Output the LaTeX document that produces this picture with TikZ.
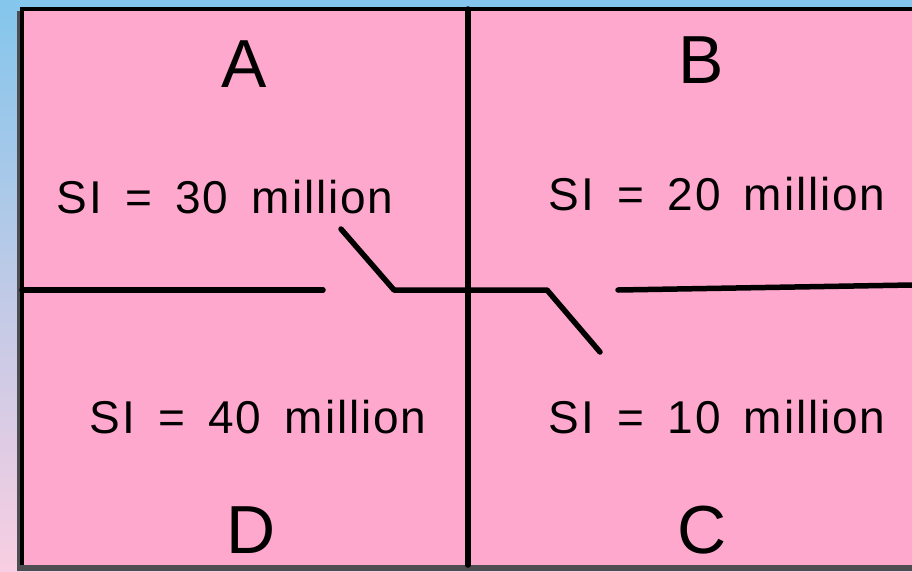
\documentclass[tikz,border=0pt]{standalone}
\usepackage{fontspec}
\setmainfont{Liberation Sans}
\newfontfamily\sifont[LetterSpace=4,WordSpace=1.6]{Liberation Sans}
\usepackage{xcolor}
\definecolor{sheetpink}{RGB}{255,168,206}
\definecolor{skyblue}{RGB}{132,198,236}
\definecolor{paleblush}{RGB}{248,206,226}
\definecolor{shadowgray}{RGB}{78,78,82}

\begin{document}
\begin{tikzpicture}[
  x=1pt, y=-1pt,
  letter/.style={anchor=base, inner sep=0pt, font=\fontsize{68}{72}\selectfont},
  sival/.style={anchor=base, inner sep=0pt, font=\sifont\fontsize{46}{50}\selectfont},
  wall/.style={line width=5.5pt, line cap=round, line join=round},
  edge/.style={line width=4pt}
]
\useasboundingbox (0,0) rectangle (912,571);

% Hintergrund und Blatt
\shade[top color=skyblue, bottom color=paleblush] (0,0) rectangle (912,571);
\fill[shadowgray] (17,11) rectangle (912,571);
\fill[sheetpink] (20,7) rectangle (912,565);
\draw[edge] (22,7) -- (22,565);
\draw[edge] (20,9) -- (912,9);

% Trennlinien mit Schalter
\coordinate (hingeL) at (394,290);
\coordinate (hingeR) at (547,290);
\draw[wall] (468,9) -- (468,565);
\draw[wall] (22,290) -- (323,290);
\draw[wall] (341,229) -- (hingeL) -- (hingeR) -- (600,352);
\draw[wall] (618,290) -- (912,285);

% Felder
\node[letter] (labA) at (244,87) {A};
\node[letter] (labB) at (701,83) {B};
\node[letter] (labC) at (702,553) {C};
\node[letter] (labD) at (251,553) {D};

\node[sival] (siA) at (225,213) {SI = 30 million};
\node[sival] (siB) at (717,210) {SI = 20 million};
\node[sival] (siD) at (258,433) {SI = 40 million};
\node[sival] (siC) at (717,433) {SI = 10 million};

\end{tikzpicture}
\end{document}
